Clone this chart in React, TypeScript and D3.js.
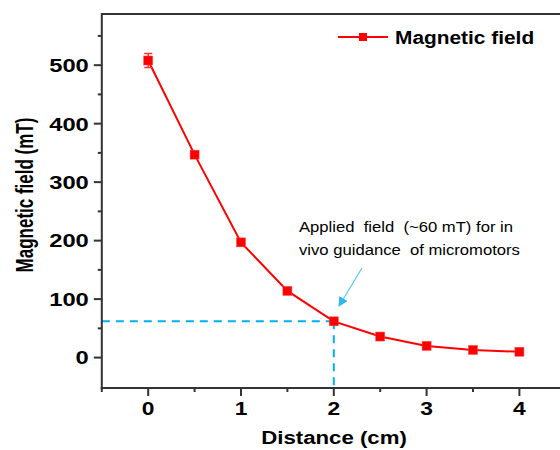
import React from "react";
import * as d3 from "d3";

const distances = [0, 0.5, 1, 1.5, 2, 2.5, 3, 3.5, 4];
const fieldValues = [508, 347, 197, 114, 62, 36, 20, 13, 10];
const fieldErrors = [12, 5, 5, 3, 3, 2, 2, 2, 2];
const xTicks = [0, 1, 2, 3, 4];
const xMinorTicks = [-0.5, 0.5, 1.5, 2.5, 3.5, 4.5];
const yTicks = [0, 100, 200, 300, 400, 500];
const yMinorTicks = [50, 150, 250, 350, 450, 550];
const appliedField = 62;
const appliedDistance = 2;
const annotationLines = ["Applied  field  (~60 mT) for in", "vivo guidance  of micromotors"];

const W = 560;
const H = 450;
const left = 101.8;
const top = 14;
const bottom = 388;

export default function App() {
  const x = d3.scaleLinear().domain([-0.5, 4.5]).range([left, left + 92.8 * 5]);
  const y = d3.scaleLinear().domain([-52, 587.5]).range([bottom, top]);
  const line = d3
    .line<number>()
    .x((_, i) => x(distances[i]))
    .y((d) => y(d));
  const font = "'Liberation Sans', Arial, sans-serif";
  const axisColor = "#333";
  const blue = "#00b0f0";
  return (
    <svg
      width={W}
      height={H}
      style={{ position: "absolute", left: 0, top: 0 }}
      fontFamily={font}
    >
      <rect width={W} height={H} fill="#fff" />
      {/* dashed guides */}
      <line
        x1={left}
        x2={x(appliedDistance)}
        y1={y(appliedField)}
        y2={y(appliedField)}
        stroke={blue}
        strokeWidth={2}
        strokeDasharray="8,6"
      />
      <line
        x1={x(appliedDistance)}
        x2={x(appliedDistance)}
        y1={y(appliedField)}
        y2={bottom}
        stroke={blue}
        strokeWidth={2}
        strokeDasharray="8,6"
      />
      {/* frame */}
      <line x1={left} x2={W + 10} y1={top} y2={top} stroke={axisColor} strokeWidth={2} />
      <line x1={left} x2={left} y1={top - 1} y2={bottom + 1} stroke={axisColor} strokeWidth={2} />
      <line x1={left - 1} x2={W + 10} y1={bottom} y2={bottom} stroke={axisColor} strokeWidth={2} />
      {/* y ticks */}
      {yTicks.map((t) => (
        <g key={"y" + t}>
          <line x1={left - 8} x2={left} y1={y(t)} y2={y(t)} stroke={axisColor} strokeWidth={2} />
          <text
            transform={`translate(${left - 13},${y(t)}) scale(1.25,1)`}
            dy="0.36em"
            textAnchor="end"
            fontSize={19}
            fontWeight="bold"
          >
            {t}
          </text>
        </g>
      ))}
      {yMinorTicks.map((t) => (
        <line key={"ym" + t} x1={left - 4} x2={left} y1={y(t)} y2={y(t)} stroke={axisColor} strokeWidth={2} />
      ))}
      {/* x ticks */}
      {xTicks.map((t) => (
        <g key={"x" + t}>
          <line x1={x(t)} x2={x(t)} y1={bottom} y2={bottom + 8} stroke={axisColor} strokeWidth={2} />
          <text
            transform={`translate(${x(t)},${bottom + 27}) scale(1.2,1)`}
            textAnchor="middle"
            fontSize={19}
            fontWeight="bold"
          >
            {t}
          </text>
        </g>
      ))}
      {xMinorTicks.map((t) => (
        <line key={"xm" + t} x1={x(t)} x2={x(t)} y1={bottom} y2={bottom + 4} stroke={axisColor} strokeWidth={2} />
      ))}
      {/* axis titles */}
      <text
        transform={`translate(334,444) scale(1.17,1)`}
        textAnchor="middle"
        fontSize={19}
        fontWeight="bold"
      >
        Distance (cm)
      </text>
      <text
        transform={`translate(33,${(top + bottom) / 2 - 6}) scale(1.4,1) rotate(-90)`}
        textAnchor="middle"
        fontSize={17}
        fontWeight="bold"
      >
        Magnetic field (mT)
      </text>
      {/* series */}
      <path d={line(fieldValues) || ""} fill="none" stroke="#ff0000" strokeWidth={2} />
      {fieldValues.map((v, i) => {
        const cx = x(distances[i]);
        const e = fieldErrors[i];
        return (
          <g key={"p" + i}>
            <line x1={cx} x2={cx} y1={y(v + e)} y2={y(v - e)} stroke="#ff3333" strokeWidth={1.5} />
            <line x1={cx - 4} x2={cx + 4} y1={y(v + e)} y2={y(v + e)} stroke="#ff3333" strokeWidth={1.5} />
            <line x1={cx - 4} x2={cx + 4} y1={y(v - e)} y2={y(v - e)} stroke="#ff3333" strokeWidth={1.5} />
            <rect x={cx - 4.5} y={y(v) - 4.5} width={9} height={9} fill="#ff0000" stroke="#ff4444" strokeWidth={0.5} />
          </g>
        );
      })}
      {/* annotation */}
      {annotationLines.map((s, i) => (
        <text
          key={"a" + i}
          transform={`translate(299,${232 + i * 23}) scale(1.11,1)`}
          fontSize={15}
          style={{ whiteSpace: "pre" }}
          xmlSpace="preserve"
        >
          {s}
        </text>
      ))}
      <defs>
        <marker id="arr" viewBox="0 0 10 10" refX="9" refY="5" markerWidth="8" markerHeight="8" orient="auto-start-reverse">
          <path d="M0,0 L10,5 L0,10 z" fill="#2fb5ef" />
        </marker>
      </defs>
      <line x1={362} y1={268} x2={339} y2={306} stroke="#5cc6f5" strokeWidth={1.2} markerEnd="url(#arr)" />
      {/* legend */}
      <line x1={338} x2={388} y1={37} y2={37} stroke="#ff0000" strokeWidth={2} />
      <rect x={359} y={33} width={8} height={8} fill="#ff0000" />
      <text
        transform="translate(395,43.5) scale(1.16,1)"
        fontSize={18}
        fontWeight="bold"
      >
        Magnetic field
      </text>
    </svg>
  );
}
